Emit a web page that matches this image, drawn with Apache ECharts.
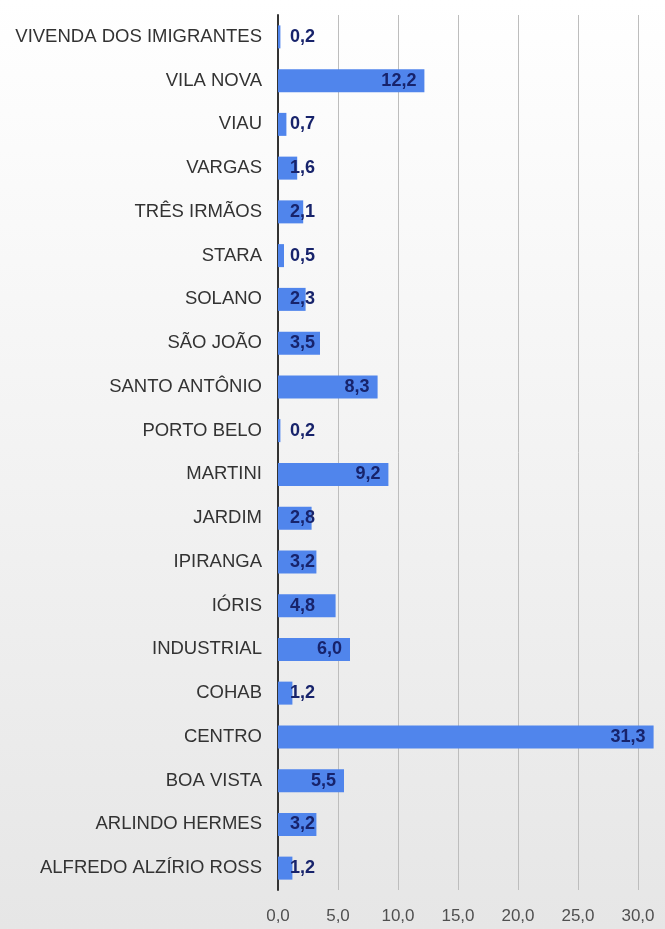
<!DOCTYPE html>
<html>
<head>
  <meta charset="UTF-8"/>
  <title></title>
  <script src="https://cdn.jsdelivr.net/npm/echarts@6/dist/echarts.min.js"></script>
  <style>
    html, body { margin: 0; padding: 0; }
    #main { width: 665px; height: 929px; }
  </style>
</head>
<body>
<div id="main"></div>
<script type="text/javascript">
    // bairros, de cima para baixo
    const bairros = [
        'VIVENDA DOS IMIGRANTES', 'VILA NOVA', 'VIAU', 'VARGAS', 'TRÊS IRMÃOS',
        'STARA', 'SOLANO', 'SÃO JOÃO', 'SANTO ANTÔNIO', 'PORTO BELO',
        'MARTINI', 'JARDIM', 'IPIRANGA', 'IÓRIS', 'INDUSTRIAL',
        'COHAB', 'CENTRO', 'BOA VISTA', 'ARLINDO HERMES', 'ALFREDO ALZÍRIO ROSS'
    ]
    const percentuais = [
        0.2, 12.2, 0.7, 1.6, 2.1,
        0.5, 2.3, 3.5, 8.3, 0.2,
        9.2, 2.8, 3.2, 4.8, 6.0,
        1.2, 31.3, 5.5, 3.2, 1.2
    ]
    const eixoMin = 0
    const eixoMax = 30
    const eixoPasso = 5

    const fmt = v => Number(v).toFixed(1).replace('.', ',')

    let myChart = echarts.init(document.getElementById('main'))
    let option = {
        backgroundColor: {
            type: 'linear', x: 0, y: 0, x2: 0, y2: 1,
            colorStops: [
                {offset: 0, color: '#ffffff'},
                {offset: 1, color: '#e6e6e6'}
            ]
        },
        textStyle: {fontFamily: '"Liberation Sans", Arial, sans-serif'},
        grid: {left: 278, right: 27, top: 15, bottom: 39, outerBoundsMode: 'none'},
        xAxis: {
            type: 'value',
            min: eixoMin,
            max: eixoMax,
            interval: eixoPasso,
            axisLine: {show: false},
            axisTick: {show: false},
            splitLine: {lineStyle: {color: '#bdbdbd', width: 1}},
            axisLabel: {
                color: '#505050',
                fontSize: 17,
                margin: 18,
                formatter: fmt
            }
        },
        yAxis: {
            type: 'category',
            inverse: true,
            data: bairros,
            axisLine: {show: true, lineStyle: {color: '#333', width: 2}},
            axisTick: {show: false},
            axisLabel: {
                color: '#333',
                fontSize: 18.5,
                margin: 16
            }
        },
        series: [{
            type: 'bar',
            clip: false,
            barWidth: 23,
            itemStyle: {color: '#5085ec'},
            data: percentuais.map(v => ({
                value: v,
                label: v >= 5
                    ? {position: 'insideRight', distance: 8}
                    : {position: 'insideLeft', distance: 12}
            })),
            label: {
                show: true,
                color: '#17236b',
                fontWeight: 'bold',
                fontSize: 18,
                formatter: p => fmt(p.value)
            }
        }]
    };
    myChart.setOption(option);
</script>
</body>
</html>
